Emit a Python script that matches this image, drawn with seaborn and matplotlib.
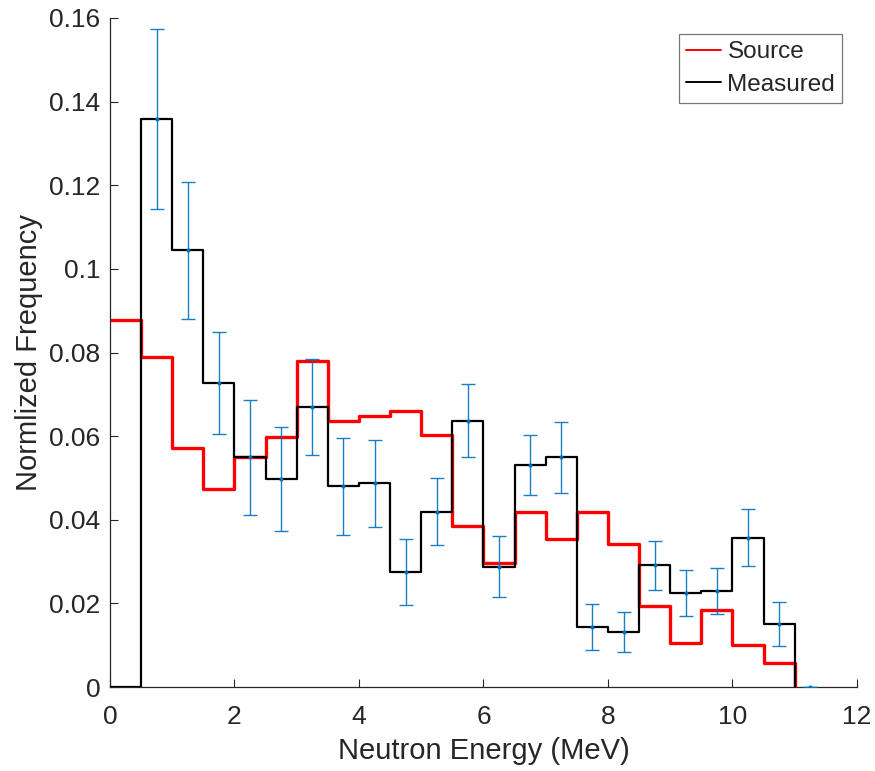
import numpy as np
import pandas as pd
import matplotlib
matplotlib.use("Agg")
import matplotlib.pyplot as plt
import seaborn as sns

# Bin edges of the 0.5 MeV energy bins (left edges, plus the closing edge at 11 MeV)
edges = [0.0, 0.5, 1.0, 1.5, 2.0, 2.5, 3.0, 3.5, 4.0, 4.5, 5.0, 5.5,
         6.0, 6.5, 7.0, 7.5, 8.0, 8.5, 9.0, 9.5, 10.0, 10.5, 11.0]

# Normalised frequency per bin (22 bins from 0 to 11 MeV)
source = [0.0877, 0.0790, 0.0571, 0.0473, 0.0549, 0.0599, 0.0779, 0.0636,
          0.0648, 0.0659, 0.0602, 0.0385, 0.0297, 0.0419, 0.0353, 0.0419,
          0.0341, 0.0194, 0.0106, 0.0184, 0.0100, 0.0057]
measured = [0.0, 0.1358, 0.1044, 0.0728, 0.0549, 0.0497, 0.0669, 0.0480,
            0.0487, 0.0274, 0.0419, 0.0637, 0.0288, 0.0531, 0.0549, 0.0144,
            0.0132, 0.0291, 0.0225, 0.0230, 0.0357, 0.0151]

# Bin centres with measurement uncertainty (bins 0.5-1 ... 11-11.5 MeV)
err_centers = [0.75, 1.25, 1.75, 2.25, 2.75, 3.25, 3.75, 4.25, 4.75, 5.25,
               5.75, 6.25, 6.75, 7.25, 7.75, 8.25, 8.75, 9.25, 9.75, 10.25,
               10.75, 11.25]
err_values = measured[1:] + [0.0]
err_sigma = [0.0215, 0.0164, 0.0122, 0.0137, 0.0125, 0.0115, 0.0116, 0.0104,
             0.0079, 0.0080, 0.0088, 0.0073, 0.0071, 0.0085, 0.0055, 0.0048,
             0.0059, 0.0055, 0.0055, 0.0068, 0.0052, 0.0]

xticks = [0, 2, 4, 6, 8, 10, 12]
yticks = [0, 0.02, 0.04, 0.06, 0.08, 0.10, 0.12, 0.14, 0.16]
ytick_labels = ["0", "0.02", "0.04", "0.06", "0.08", "0.1", "0.12", "0.14", "0.16"]

sns.set_style("white")
plt.rcParams["font.family"] = ["Liberation Sans", "DejaVu Sans"]

fig = plt.figure(figsize=(8.75, 7.71), dpi=100)
ax = fig.add_axes([0.1257, 0.1089, 0.8537, 0.8678])

df_src = pd.DataFrame({"E": edges, "f": source + [0.0]})
df_meas = pd.DataFrame({"E": edges, "f": measured + [0.0]})

sns.lineplot(data=df_src, x="E", y="f", ax=ax, color="#ff0000", lw=2.4,
             drawstyle="steps-post", label="Source", zorder=2)
sns.lineplot(data=df_meas, x="E", y="f", ax=ax, color="#000000", lw=1.6,
             drawstyle="steps-post", label="Measured", zorder=3)

ax.errorbar(err_centers, err_values, yerr=err_sigma, fmt=".", color="#0072BD",
            ecolor="#0072BD", elinewidth=1.0, capsize=4.8, capthick=1.0,
            markersize=4, zorder=4, alpha=0.9)

ax.set_xlim(0, 12)
ax.set_ylim(0, 0.16)
ax.set_xticks(xticks)
ax.set_xticklabels([str(t) for t in xticks])
ax.set_yticks(yticks)
ax.set_yticklabels(ytick_labels)

ax.set_xlabel("Neutron Energy (MeV)", fontsize=21, color="#262626", labelpad=6)
ax.set_ylabel("Normlized Frequency", fontsize=21, color="#262626", labelpad=4)

ax.tick_params(axis="both", which="both", direction="in", length=6, width=0.8,
               colors="#262626", labelsize=19, left=True, bottom=True,
               top=False, right=False)
ax.tick_params(axis="x", pad=13)
ax.tick_params(axis="y", pad=7)

for side in ["top", "right"]:
    ax.spines[side].set_visible(False)
for side in ["left", "bottom"]:
    ax.spines[side].set_color("#262626")
    ax.spines[side].set_linewidth(0.9)

leg = ax.legend(loc="upper right", bbox_to_anchor=(0.9806, 0.976), fontsize=17.5,
                frameon=True, fancybox=False, edgecolor="#555555",
                handlelength=1.45, handletextpad=0.25, borderpad=0.3,
                labelspacing=0.42, borderaxespad=0.0)
leg.get_frame().set_linewidth(0.9)
for line in leg.get_lines():
    line.set_linewidth(1.4)

ax.grid(False)
fig.savefig("out.png", dpi=100)
